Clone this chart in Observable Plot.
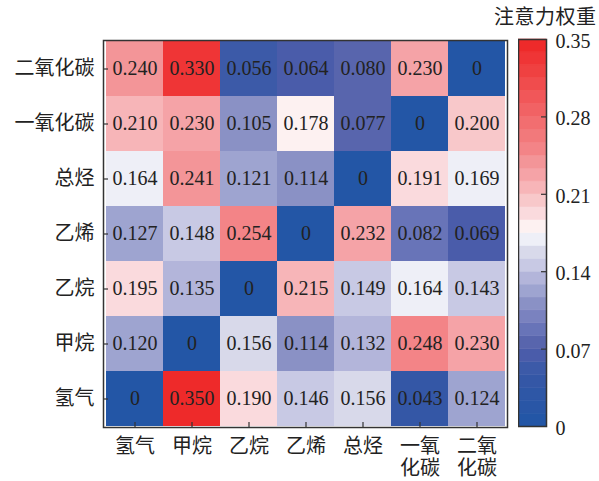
<!DOCTYPE html>
<html>
<head>
<meta charset="utf-8">
<script src="https://cdn.jsdelivr.net/npm/d3@7"></script>
<script src="https://cdn.jsdelivr.net/npm/@observablehq/plot@0.6"></script>
<style>
  html, body { margin: 0; padding: 0; background: white; }
  #wrap { position: relative; width: 599px; height: 481px; overflow: hidden; }
  #heat { position: absolute; left: 0; top: 0; }
  #bar { position: absolute; left: 518px; top: 0; }
  #title { position: absolute; left: 494px; top: 6px; font: 20px "Noto Sans CJK SC", sans-serif; line-height: 20px; color: #222; letter-spacing: 0.5px; z-index: 5; white-space: nowrap; }
</style>
</head>
<body>
<div id="wrap">
  <div id="heat"></div>
  <div id="bar"></div>
  <div id="title">注意力权重</div>
</div>
<script>
// ---- data ----
const xLabels = ["氢气", "甲烷", "乙烷", "乙烯", "总烃", "一氧化碳", "二氧化碳"];
const yLabels = ["二氧化碳", "一氧化碳", "总烃", "乙烯", "乙烷", "甲烷", "氢气"]; // top to bottom
const values = [
  [0.240, 0.330, 0.056, 0.064, 0.080, 0.230, 0],
  [0.210, 0.230, 0.105, 0.178, 0.077, 0, 0.200],
  [0.164, 0.241, 0.121, 0.114, 0, 0.191, 0.169],
  [0.127, 0.148, 0.254, 0, 0.232, 0.082, 0.069],
  [0.195, 0.135, 0, 0.215, 0.149, 0.164, 0.143],
  [0.120, 0, 0.156, 0.114, 0.132, 0.248, 0.230],
  [0, 0.350, 0.190, 0.146, 0.156, 0.043, 0.124]
];
const colorMax = 0.35;
const nBins = 30;
const barTicks = [0, 0.07, 0.14, 0.21, 0.28, 0.35];
// colormap anchors: [bin index, colour]
const colorStops = [
  [0, "#2356a6"], [3, "#3457a6"], [4, "#3c5aa8"], [5, "#4a5caa"], [6, "#5865ad"],
  [7, "#6874b8"], [8, "#7a82bf"], [9, "#8a91c5"], [10, "#9ea4d0"], [11, "#b3b5da"],
  [12, "#c8c9e4"], [13, "#d8d9ea"], [14, "#eeeff7"], [15, "#fdf1f1"], [16, "#fadadd"],
  [17, "#f8c8ca"], [18, "#f7b5b8"], [19, "#f5a3a7"], [20, "#f39598"], [21, "#f38487"],
  [29, "#ee2a2a"]
];

// ---- derived ----
const step = colorMax / nBins;
const binColors = d3.range(nBins).map(i => {
  for (let k = 0; k < colorStops.length - 1; k++) {
    const [a, ca] = colorStops[k], [b, cb] = colorStops[k + 1];
    if (i >= a && i <= b) return d3.interpolateRgb(ca, cb)((i - a) / (b - a));
  }
  return colorStops[colorStops.length - 1][1];
});
const thresholds = d3.range(1, nBins).map(i => i * step);
const colorScale = {type: "threshold", domain: thresholds, range: binColors};

const cells = [];
yLabels.forEach((yl, r) => xLabels.forEach((xl, c) => cells.push({x: xl, y: yl, v: values[r][c]})));

const font = '"Liberation Serif", "Noto Sans CJK SC", serif';
const W1 = 512, H = 481, mL = 103, mR = 5, mT = 40, mB = 54;

const heat = Plot.plot({
  width: W1, height: H,
  marginLeft: mL, marginRight: mR, marginTop: mT, marginBottom: mB,
  style: {fontFamily: font, fontSize: "20px", color: "#222", background: "transparent"},
  x: {domain: xLabels, padding: 0, label: null},
  y: {domain: yLabels, padding: 0, label: null},
  color: colorScale,
  marks: [
    Plot.cell(cells, {x: "x", y: "y", fill: "v"}),
    Plot.text(cells, {x: "x", y: "y", text: d => d.v === 0 ? "0" : d.v.toFixed(3), fill: "#222", fontSize: 20}),
    Plot.axisX({anchor: "bottom", tickSize: 0, tickPadding: 10, fontSize: 20, lineHeight: 1.1,
      tickFormat: d => d.length === 4 ? d.slice(0, 2) + "\n" + d.slice(2) : d, label: null}),
    Plot.axisY({anchor: "left", tickSize: 0, tickPadding: 9, fontSize: 20, label: null}),
    Plot.tickX(xLabels, {x: d => d, insetTop: (H - mT - mB) - 5, stroke: "#333", strokeWidth: 1.2}),
    Plot.tickY(yLabels, {y: d => d, insetRight: (W1 - mL - mR) - 5, stroke: "#333", strokeWidth: 1.2}),
    Plot.frame({stroke: "#333", strokeWidth: 1.5})
  ]
});
document.getElementById("heat").appendChild(heat);

const bins = d3.range(nBins).map(i => ({y1: i * step, y2: (i + 1) * step, v: i * step + step / 2}));
const bar = Plot.plot({
  width: 81, height: H,
  marginLeft: 0, marginRight: 53, marginTop: 39, marginBottom: 55,
  style: {fontFamily: font, fontSize: "20px", color: "#222", background: "transparent"},
  x: {domain: [0, 1], axis: null},
  y: {domain: [0, colorMax], label: null},
  color: colorScale,
  marks: [
    Plot.rect(bins, {x1: 0, x2: 1, y1: "y1", y2: "y2", fill: "v", stroke: "v", strokeWidth: 0.5}),
    Plot.axisY({anchor: "right", ticks: barTicks, tickSize: 0, tickPadding: 9, fontSize: 20, dy: 2,
      tickFormat: d => d === 0 ? "0" : d.toFixed(2), label: null}),
    Plot.tickY(barTicks.slice(1, -1), {y: d => d, insetLeft: 23, stroke: "#333", strokeWidth: 1.2}),
    Plot.frame({stroke: "#333", strokeWidth: 1.5})
  ]
});
document.getElementById("bar").appendChild(bar);
</script>
</body>
</html>
